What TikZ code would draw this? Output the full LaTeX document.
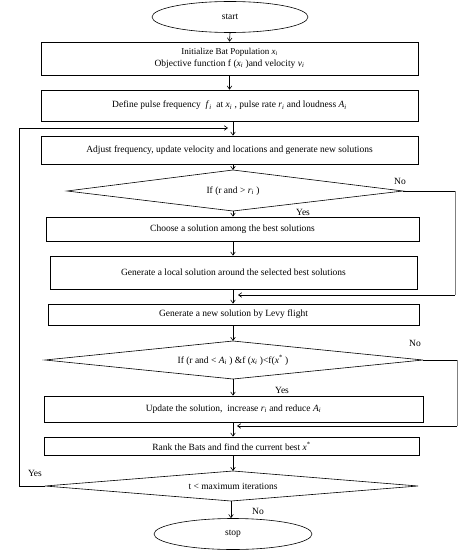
\documentclass[tikz,border=0pt]{standalone}
\usepackage{fontspec}
\setmainfont{Liberation Serif}
\usetikzlibrary{arrows.meta,shapes.geometric}
\newcommand\vsub[2]{\textit{#1}\textsubscript{\textit{#2}}}
\newcommand\xstar{\textit{x}\textsuperscript{*}}
\begin{document}
\begin{tikzpicture}[x=1pt,y=-1pt,
  every node/.style={font=\fontsize{9.5}{11}\selectfont},
  proc/.style={draw,line width=0.6pt,inner sep=0pt},
  term/.style={draw,ellipse,line width=0.6pt,inner sep=0pt},
  dec/.style={draw,line width=0.6pt},
  lbl/.style={inner sep=1pt},
  flow/.style={line width=0.6pt,-{Straight Barb[angle=70:4pt]}},
  line/.style={line width=0.6pt},
  gline/.style={line width=1pt,draw=gray}]
\useasboundingbox (0,0) rectangle (468,551);
% terminals
\node[term,minimum width=156pt,minimum height=31pt] (start) at (230,17) {start};
\node[term,minimum width=158pt,minimum height=31pt] (stop) at (233,534) {stop};
% process boxes
\node[proc,minimum width=377pt,minimum height=33pt,align=center] (init) at (229.5,58.5)
  {{\fontsize{9}{10}\selectfont Initialize Bat Population \vsub{x}{i}}\\[1pt]Objective function f (\vsub{x}{i} )and velocity \vsub{v}{i}};
\node[proc,minimum width=377pt,minimum height=31pt] (define) at (229.5,105.5)
  {Define pulse frequency \ \vsub{f}{i} \ at \vsub{x}{i} , pulse rate \vsub{r}{i} and loudness \vsub{A}{i}};
\node[proc,minimum width=377pt,minimum height=28pt] (adjust) at (229.5,150)
  {Adjust frequency, update velocity and locations and generate new solutions};
\node[proc,minimum width=373pt,minimum height=24pt] (choose) at (232.5,229)
  {Choose a solution among the best solutions};
\node[proc,minimum width=367pt,minimum height=33pt] (local) at (233.5,272.5)
  {Generate a local solution around the selected best solutions};
\node[proc,minimum width=371pt,minimum height=21pt] (levy) at (233.5,314.5)
  {Generate a new solution by Levy flight};
\node[proc,minimum width=379pt,minimum height=26pt] (update) at (233.5,409)
  {Update the solution, \ increase \vsub{r}{i} and reduce \vsub{A}{i}};
\node[proc,minimum width=375pt,minimum height=18pt] (rank) at (231.5,446)
  {Rank the Bats and find the current best \xstar};
% decisions (drawn as polygons)
\coordinate (d1c) at (233,191);
\coordinate (d1t) at (233,170); \coordinate (d1b) at (233,211);
\coordinate (d1l) at (67,191);  \coordinate (d1r) at (403,191);
\draw[dec] (d1t) -- (d1r) -- (d1b) -- (d1l) -- cycle;
\node (d1) at (d1c) {If (r and > \vsub{r}{i} )};
\coordinate (d2c) at (233,360);
\coordinate (d2t) at (233,341); \coordinate (d2b) at (233,379);
\coordinate (d2l) at (45,360);  \coordinate (d2r) at (423,360);
\draw[dec] (d2t) -- (d2r) -- (d2b) -- (d2l) -- cycle;
\node (d2) at (d2c) {If (r and < \vsub{A}{i} ) \&f (\vsub{x}{i} )<f(\xstar\ )};
\coordinate (d3c) at (233,486);
\coordinate (d3t) at (233,471); \coordinate (d3b) at (231,501);
\coordinate (d3l) at (45,486);  \coordinate (d3r) at (418,486);
\draw[dec] (d3t) -- (d3r) -- (d3b) -- (d3l) -- cycle;
\node (d3) at (d3c) {t < maximum iterations};
% main flow
\draw[flow] (start.south) -- (init.north);
\draw[flow] (init.south) -- (define.north);
\draw[flow] (define.south -| 233,0) -- (adjust.north -| 233,0);
\draw[flow] (adjust.south -| 233,0) -- (d1t);
\draw[flow] (d1b) -- (choose.north -| 233,0);
\draw[flow] (choose.south -| 233,0) -- (local.north -| 233,0);
\draw[flow] (local.south -| 233,0) -- (levy.north -| 233,0);
\draw[flow] (levy.south -| 233,0) -- (d2t);
\draw[flow] (d2b) -- (update.north -| 233,0);
\draw[flow] (update.south -| 233,0) -- (rank.north -| 233,0);
\draw[flow] (rank.south -| 233,0) -- (d3t);
\draw[flow] (d3b) -- (stop.north -| 231,0);
% branches
\coordinate (j1) at (238,295);
\coordinate (c1a) at (455,191); \coordinate (c1b) at (455,295);
\draw[line] (d1r) -- (c1a);
\draw[gline] (c1a) -- (c1b);
\draw[flow] (c1b) -- (j1);
\coordinate (j2) at (237,426);
\coordinate (c2a) at (457,360); \coordinate (c2b) at (457,426);
\draw[line] (d2r) -- (c2a);
\draw[gline] (c2a) -- (c2b);
\draw[flow] (c2b) -- (j2);
\coordinate (j3) at (228,128);
\coordinate (c3a) at (19,486); \coordinate (c3b) at (19,128);
\draw[line] (d3l) -- (c3a) -- (c3b);
\draw[flow] (c3b) -- (j3);
% labels
\node[lbl] at (400,181) {No};
\node[lbl] at (303,212) {Yes};
\node[lbl] at (415,343) {No};
\node[lbl] at (282,390) {Yes};
\node[lbl] at (35,473) {Yes};
\node[lbl] at (258,511) {No};
\end{tikzpicture}
\end{document}
